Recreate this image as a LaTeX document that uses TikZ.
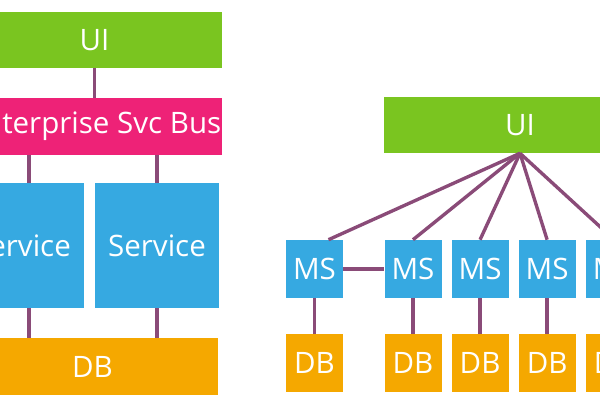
\documentclass[tikz,border=0pt]{standalone}
\usepackage{fontspec}
\setmainfont{Open Sans}
\usetikzlibrary{positioning}
\definecolor{uigreen}{RGB}{122,197,32}
\definecolor{buspink}{RGB}{238,34,119}
\definecolor{svcblue}{RGB}{54,169,225}
\definecolor{dborange}{RGB}{245,168,0}
\definecolor{linkpurple}{RGB}{138,75,120}
\tikzset{
  box/.style={fill=#1, text=white, inner sep=0pt, font=\fontsize{21}{24}\selectfont},
  link/.style={draw=linkpurple, line width=2.4pt},
}
\begin{document}
\begin{tikzpicture}
\useasboundingbox (0,0) rectangle (15,10);
\clip (0,0) rectangle (15,10);
% monolith with service bus
\node[box=uigreen, minimum width=6.375cm, minimum height=1.4cm] (ui) at (2.3625,9.0) {UI};
\node[box=buspink, minimum width=6.375cm, minimum height=1.425cm] (esb) at (2.3625,6.8375) {Enterprise Svc Bus};
\node[box=svcblue, minimum width=3.1cm, minimum height=3.125cm] (svca) at (0.55,3.8625) {Service};
\node[box=svcblue, minimum width=3.1cm, minimum height=3.125cm] (svcb) at (3.925,3.8625) {Service};
\node[box=dborange, minimum width=6.275cm, minimum height=1.425cm] (db) at (2.3125,0.8375) {DB};
\draw[link] (ui) -- (esb);
\draw[link] ([xshift=0.175cm]svca.north) -- ([xshift=0.175cm]svca.north |- esb.south);
\draw[link] (svcb) -- (svcb |- esb.south);
\draw[link] ([xshift=0.175cm]svca.south) -- ([xshift=0.175cm]svca.south |- db.north);
\draw[link] (svcb) -- (svcb |- db.north);
% microservices
\node[box=uigreen, minimum width=6.8cm, minimum height=1.4cm] (uim) at (13.0,6.875) {UI};
\node[box=svcblue, minimum width=1.425cm, minimum height=1.45cm] (msa) at (7.8625,3.275) {MS};
\node[box=svcblue, minimum width=1.425cm, minimum height=1.45cm] (msb) at (10.325,3.275) {MS};
\node[box=svcblue, minimum width=1.425cm, minimum height=1.45cm, right=0.2375cm of msb] (msc) {MS};
\node[box=svcblue, minimum width=1.425cm, minimum height=1.45cm, right=0.2375cm of msc] (msd) {MS};
\node[box=svcblue, minimum width=1.425cm, minimum height=1.45cm, right=0.2375cm of msd] (mse) {MS};
\foreach \m/\d in {msa/dba, msb/dbb, msc/dbc, msd/dbd, mse/dbe}{
  \node[box=dborange, minimum width=1.425cm, minimum height=1.45cm] (\d) at (\m |- 0,0.925) {DB};
  \draw[link] (\m) -- (\d);
}
\draw[link] (uim.south) -- ([xshift=0.35cm]msa.north);
\foreach \m in {msb, msc, msd, mse}
  \draw[link] (uim.south) -- (\m.north);
\draw[link] (msa) -- (msb);
\end{tikzpicture}
\end{document}
